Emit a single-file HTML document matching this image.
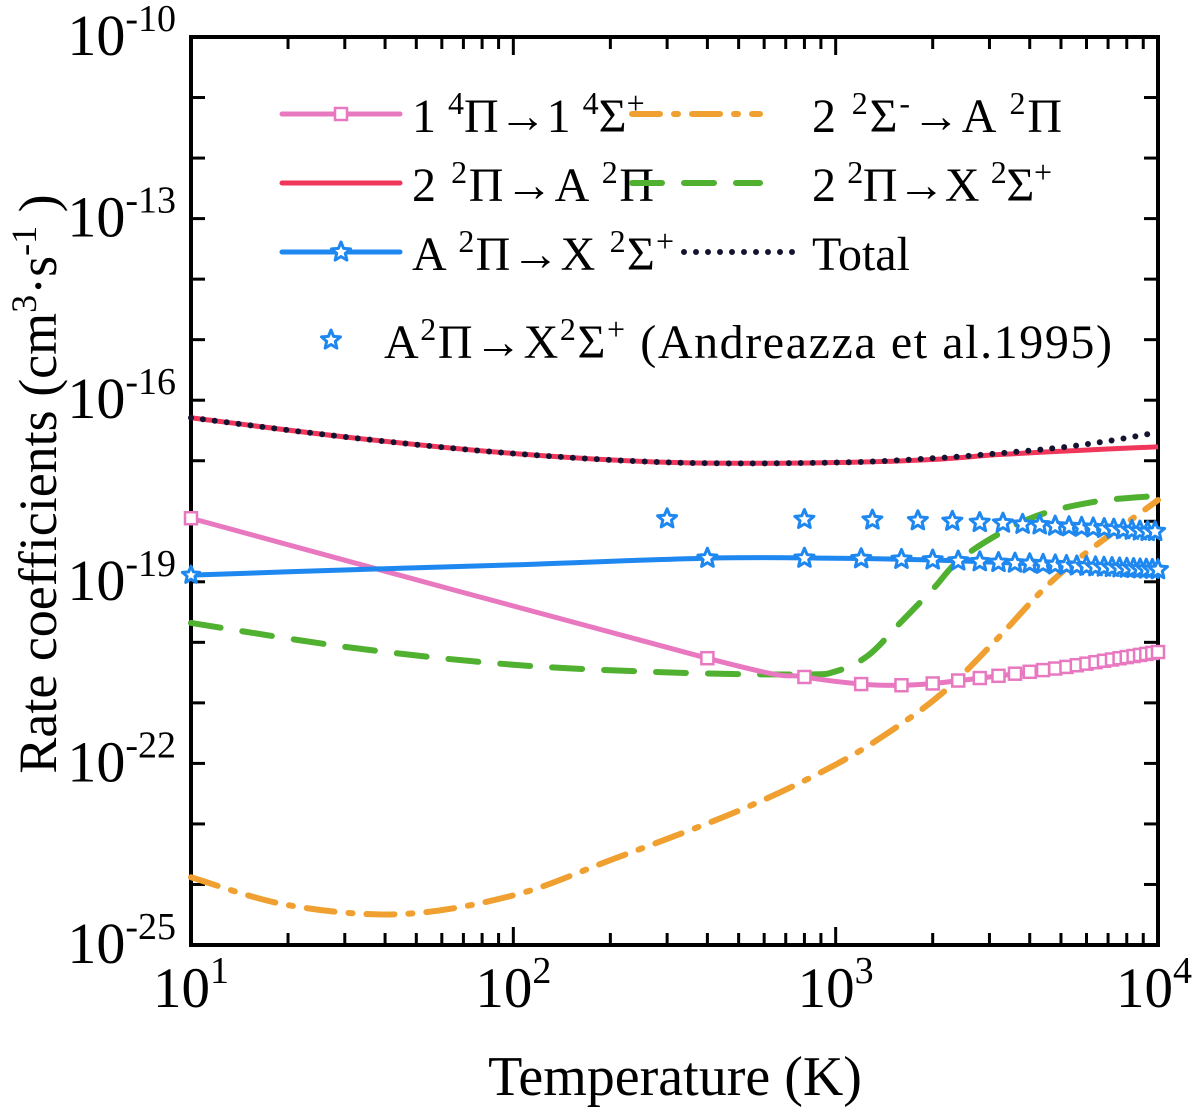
<!DOCTYPE html>
<html><head><meta charset="utf-8"><style>
body{margin:0;background:#fff}
svg{display:block;font-family:"Liberation Serif",serif}
</style></head><body>
<svg id="c" width="1200" height="1112" viewBox="0 0 1200 1112">
<g id="axes"></g>
<g id="series"></g>
<g id="legend"></g>
<text x="675" y="1095" font-size="56" text-anchor="middle">Temperature (K)</text>
<text transform="translate(56,484) rotate(-90)" font-size="54" text-anchor="middle">Rate coefficients (cm<tspan dy="-20" font-size="36">3</tspan><tspan dy="20">·s</tspan><tspan dy="-20" font-size="36">-1</tspan><tspan dy="20"> )</tspan></text>
</svg>
<script>
const xTicks=[1,2,3,4];
const yTickLabels=[-10,-13,-16,-19,-22,-25];
// data: log10(T) and log10(rate)
const redT=[1,1.5,2,2.5,3,3.3,3.5,3.75,4];
const redV=[-16.29,-16.62,-16.88,-17.03,-17.03,-16.98,-16.9,-16.83,-16.77];
const totT=[1,1.5,2,2.5,3,3.3,3.5,3.7,3.85,4];
const totV=[-16.29,-16.62,-16.88,-17.03,-17.03,-16.96,-16.88,-16.78,-16.67,-16.53];
const pinkT=[1,2.6,2.9,3.08,3.2,3.3,3.48,3.7,4];
const pinkV=[-17.95,-20.26,-20.57,-20.69,-20.71,-20.68,-20.57,-20.42,-20.16];
const blueT=[1,1.5,2,2.6,3,3.3,3.6,4];
const blueV=[-18.89,-18.8,-18.72,-18.61,-18.61,-18.64,-18.7,-18.8];
const andT=[2.477,2.903,3.114,3.255,3.362,3.447,3.519,3.580,3.633,3.681,3.724,3.763,3.799,3.833,3.863,3.892,3.919,3.944,3.968,3.991];
const andV=[-17.96,-17.97,-17.98,-17.99,-18.0,-18.02,-18.03,-18.05,-18.06,-18.08,-18.09,-18.1,-18.11,-18.12,-18.13,-18.14,-18.15,-18.16,-18.17,-18.17];
const greenT=[1,1.5,2,2.5,2.9,3.0,3.1,3.2,3.3,3.4,3.6,3.8,4];
const greenV=[-19.68,-20.09,-20.37,-20.5,-20.53,-20.48,-20.22,-19.68,-19.13,-18.57,-17.96,-17.68,-17.58];
const orangeT=[1,1.3,1.65,2,2.3,2.7,3.0,3.2,3.35,3.5,3.7,4];
const orangeV=[-23.88,-24.34,-24.49,-24.18,-23.6,-22.78,-22.02,-21.36,-20.75,-19.95,-18.85,-17.65];

const X0=191,X1=1158,Y0=37,Y1=945;
const xs=l=>X0+(l-1)/3*(X1-X0);
const ys=v=>Y0+(-10-v)/15*(Y1-Y0);
const NS='http://www.w3.org/2000/svg';
function mk(tag,attrs,parent){const e=document.createElementNS(NS,tag);for(const k in attrs)e.setAttribute(k,attrs[k]);parent.appendChild(e);return e;}
const ax=document.getElementById('axes'),se=document.getElementById('series'),lg=document.getElementById('legend');
const fr=mk('rect',{x:X0,y:Y0,width:X1-X0,height:Y1-Y0,fill:'none',stroke:'#000','stroke-width':4},ax);


for(let v=-10;v>=-25;v--){const y=ys(v);
 mk('line',{x1:X0,x2:X0+14,y1:y,y2:y,stroke:'#000','stroke-width':3},ax);
 mk('line',{x1:X1,x2:X1-14,y1:y,y2:y,stroke:'#000','stroke-width':3},ax);}
yTickLabels.forEach(v=>{const t=mk('text',{x:176,y:ys(v)+18,'font-size':58,'text-anchor':'end'},ax);
 
 
 t.innerHTML='10<tspan dy="-24" font-size="38">'+v+'</tspan>';});
for(let d=1;d<4;d++)for(let m=1;m<10;m++){const x=xs(d+Math.log10(m));const L=m==1?18:12;
 mk('line',{x1:x,x2:x,y1:Y1,y2:Y1-L,stroke:'#000','stroke-width':3},ax);
 mk('line',{x1:x,x2:x,y1:Y0,y2:Y0+L,stroke:'#000','stroke-width':3},ax);}
xTicks.forEach(d=>{const t=mk('text',{x:xs(d)-(d==4?4:0),y:1007,'font-size':57,'text-anchor':'middle'},ax);
 
 
 t.innerHTML='10<tspan dy="-24" font-size="38">'+d+'</tspan>';});
function path(T,V){
 const P=T.map((t,i)=>[xs(t),ys(V[i])]);
 let s='M'+P[0][0]+','+P[0][1];
 for(let i=0;i<P.length-1;i++){const p0=P[Math.max(0,i-1)],p1=P[i],p2=P[i+1],p3=P[Math.min(P.length-1,i+2)];
  const c1=[p1[0]+(p2[0]-p0[0])/6,p1[1]+(p2[1]-p0[1])/6],c2=[p2[0]-(p3[0]-p1[0])/6,p2[1]-(p3[1]-p1[1])/6];
  s+=' C'+c1+' '+c2+' '+p2;}
 return s;}
function interp(T,V,t){for(let i=0;i<T.length-1;i++)if(t<=T[i+1]){const f=(t-T[i])/(T[i+1]-T[i]);return V[i]+f*(V[i+1]-V[i]);}return V[V.length-1];}
function star(cx,cy,r,parent,name){let p='';for(let i=0;i<10;i++){const a=-Math.PI/2+i*Math.PI/5,rr=i%2?r*0.45:r;p+=(i?'L':'M')+(cx+rr*Math.cos(a)).toFixed(1)+','+(cy+rr*Math.sin(a)).toFixed(1);}
 const e=mk('path',{d:p+'Z',fill:'#fff',stroke:'#1e88f0','stroke-width':3,'stroke-linejoin':'round'},parent);
 
 }
function sq(cx,cy,parent){const e=mk('rect',{x:cx-6,y:cy-6,width:12,height:12,fill:'#fff',stroke:'#e878c0','stroke-width':2.5},parent);
 
 }
const sOr=mk('path',{d:path(orangeT,orangeV),fill:'none',stroke:'#f0a030','stroke-width':6,'stroke-dasharray':'28 14 4 14','stroke-linecap':'round'},se);


const sGr=mk('path',{d:path(greenT,greenV),fill:'none',stroke:'#50b030','stroke-width':6,'stroke-dasharray':'30 22','stroke-linecap':'round'},se);


const sPk=mk('path',{d:path(pinkT,pinkV),fill:'none',stroke:'#e878c0','stroke-width':5},se);


const sBl=mk('path',{d:path(blueT,blueV),fill:'none',stroke:'#1e88f0','stroke-width':5},se);


const sRd=mk('path',{d:path(redT,redV),fill:'none',stroke:'#f0365a','stroke-width':5},se);


const sTt=mk('path',{d:path(totT,totV),fill:'none',stroke:'#141432','stroke-width':6,'stroke-dasharray':'0 12','stroke-linecap':'round'},se);


sq(xs(1),ys(pinkV[0]),se);star(xs(1),ys(blueV[0]),9,se,'blue-marker');
for(let T=400;T<=10000;T+=400){const l=Math.log10(T);sq(xs(l),ys(interp(pinkT,pinkV,l)),se);star(xs(l),ys(interp(blueT,blueV,l)),10,se,'blue-marker');}
andT.forEach((t,i)=>star(xs(t),ys(andV[i]),10,se,'andreazza-point'));
function lline(x1,x2,y,attrs,name){const e=mk('line',Object.assign({x1,x2,y1:y,y2:y,'stroke-linecap':'round'},attrs),lg);
 
 }
function ltext(x,y,html,name,len){const t=mk('text',{x,y,'font-size':48},lg);t.innerHTML=html;
 if(len){t.setAttribute('textLength',len);t.setAttribute('lengthAdjust','spacing');}
 
 }
const sup=s=>'<tspan dy="-18" font-size="32">'+s+'</tspan><tspan dy="18">';
lline(282,400,114,{stroke:'#e878c0','stroke-width':5},'legend-pink-line');sq(341,114,lg);
ltext(412,132,'1 '+sup('4')+'Π→1 </tspan>'+sup('4')+'Σ</tspan>'+'<tspan dy="-18" font-size="32">+</tspan>','legend-pink-label');
lline(282,400,183,{stroke:'#f0365a','stroke-width':5},'legend-red-line');
ltext(412,201,'2 '+sup('2')+'Π→A </tspan>'+sup('2')+'Π</tspan>','legend-red-label',242);
lline(282,400,252,{stroke:'#1e88f0','stroke-width':5},'legend-blue-line');star(341,252,10,lg,'legend-blue-marker');
ltext(412,270,'A '+sup('2')+'Π→X </tspan>'+sup('2')+'Σ</tspan>'+'<tspan dy="-18" font-size="32">+</tspan>','legend-blue-label',262);
lline(632,760,114,{stroke:'#f0a030','stroke-width':6,'stroke-dasharray':'28 14 4 14'},'legend-orange-line');
ltext(812,132,'2 '+sup('2')+'Σ</tspan><tspan dy="-18" font-size="32">-</tspan><tspan dy="18">→A </tspan>'+sup('2')+'Π</tspan>','legend-orange-label',250);
lline(632,760,183,{stroke:'#50b030','stroke-width':6,'stroke-dasharray':'30 22'},'legend-green-line');
ltext(812,201,'2 '+sup('2')+'Π→X </tspan>'+sup('2')+'Σ</tspan>'+'<tspan dy="-18" font-size="32">+</tspan>','legend-green-label',240);
lline(684,800,252,{stroke:'#141432','stroke-width':6,'stroke-dasharray':'0 12'},'legend-total-line');
ltext(812,270,'Total','legend-total-label');
star(331,340,10,lg,'legend-andreazza-marker');
ltext(384,358,'A'+sup('2')+'Π→X</tspan>'+sup('2')+'Σ</tspan><tspan dy="-18" font-size="32">+</tspan><tspan dy="18"> (Andreazza et al.1995)</tspan>','legend-andreazza-label',728);
</script>
</body></html>
